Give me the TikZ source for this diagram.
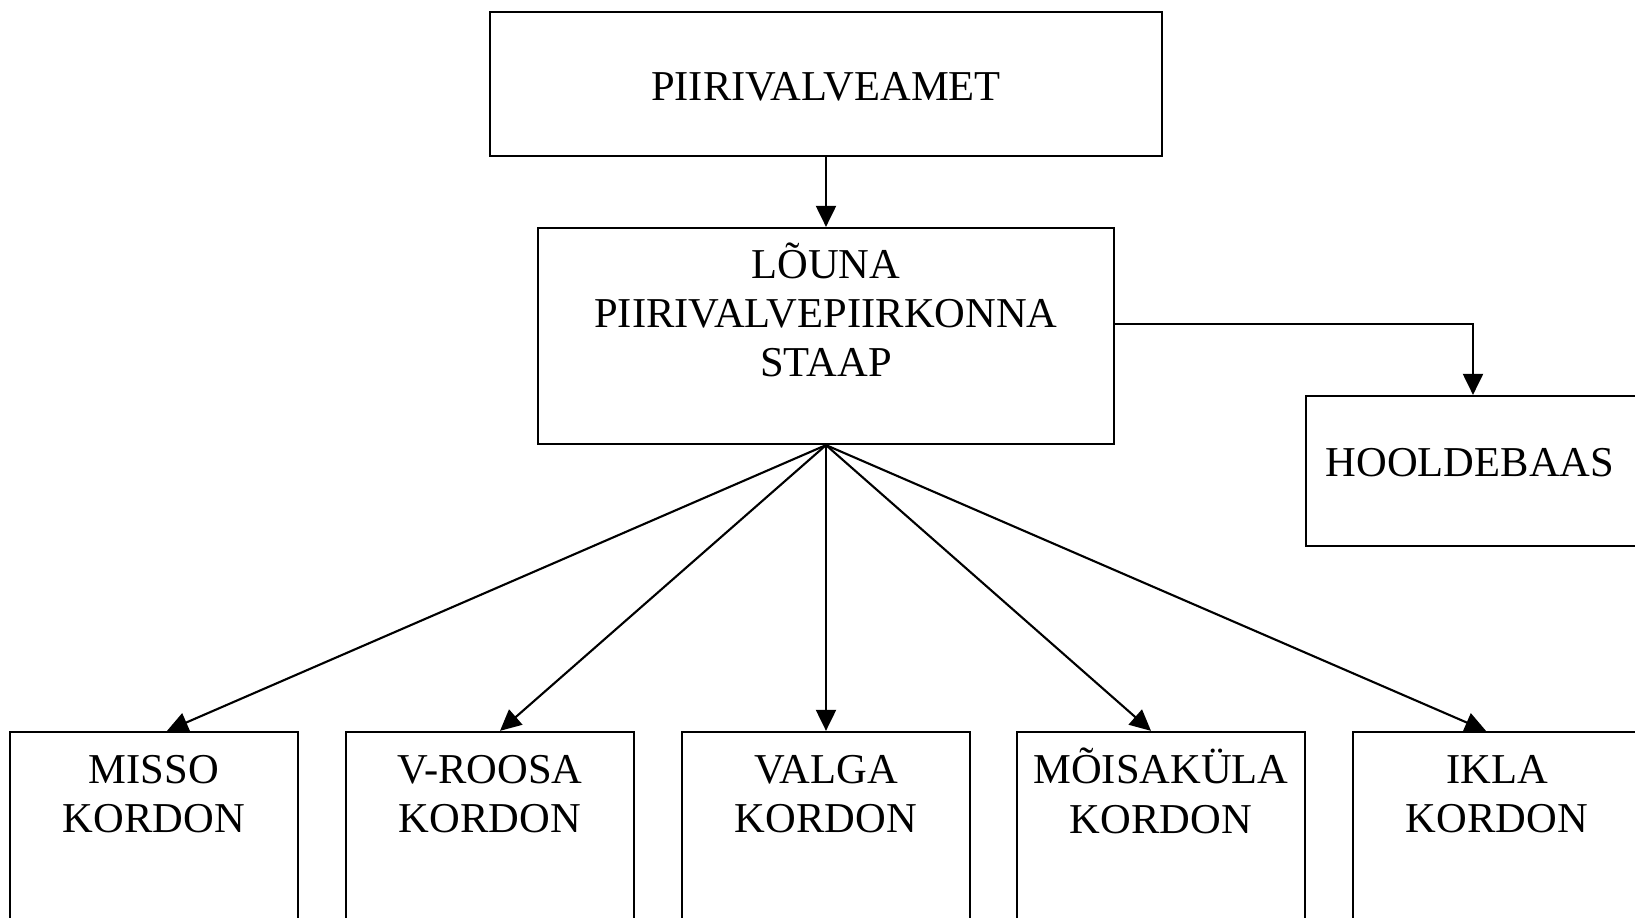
\documentclass[tikz,border=0pt]{standalone}
\usepackage{fontspec}
\setmainfont{Liberation Serif}
\usetikzlibrary{arrows.meta}

\begin{document}
\begin{tikzpicture}[x=0.01cm,y=-0.01cm,>={Triangle[length=0.21cm,width=0.2cm]},line width=0.6pt,
  box/.style={draw,rectangle,inner sep=0pt},
  txt/.style={align=center,font=\fontsize{12.1}{14}\selectfont,inner sep=0pt},
  kordon/.style={box,minimum width=2.87cm,minimum height=3cm}]
\useasboundingbox (0,0) rectangle (1635,918);
\clip (0,0) rectangle (1635,918);
\node[box,txt,minimum width=6.72cm,minimum height=1.44cm] (amet) at (826,84) {};
\node[txt] (amettxt) at (826,87) {PIIRIVALVEAMET};
\node[box,minimum width=5.76cm,minimum height=2.16cm] (staap) at (826,336) {};
\node[txt] (staaptxt) at (826,310) {LÕUNA\\PIIRIVALVEPIIRKONNA\\STAAP};
\node[box,minimum width=3.34cm,minimum height=1.5cm] (hool) at (1473,471) {};
\node[txt] (hooltxt) at (1470,463) {HOOLDEBAAS};
% kordonid
\node[kordon] (misso) at (154,882) {};
\node[txt] (missotxt) at (154,794) {MISSO\\KORDON};
\node[kordon] (vroosa) at (490,882) {};
\node[txt] (vroosatxt) at (490,794) {V-ROOSA\\KORDON};
\node[kordon] (valga) at (826,882) {};
\node[txt] (valgatxt) at (826,794) {VALGA\\KORDON};
\node[kordon] (moisa) at (1161,882) {};
\node[txt] (moisatxt) at (1161,791) {MÕISAKÜLA\\KORDON};
\node[kordon] (ikla) at (1497,882) {};
\node[txt] (iklatxt) at (1497,794) {IKLA\\KORDON};
\draw[->] (amet) -- (staap);
\draw[->] ([yshift=0.12cm]staap.east) -| (hool.north);
\draw[->] (staap.south) -- ([xshift=0.13cm]misso.north);
\draw[->] (staap.south) -- ([xshift=0.1cm]vroosa.north);
\draw[->] (staap.south) -- (valga.north);
\draw[->] (staap.south) -- ([xshift=-0.1cm]moisa.north);
\draw[->] (staap.south) -- ([xshift=-0.11cm]ikla.north);
\end{tikzpicture}
\end{document}
